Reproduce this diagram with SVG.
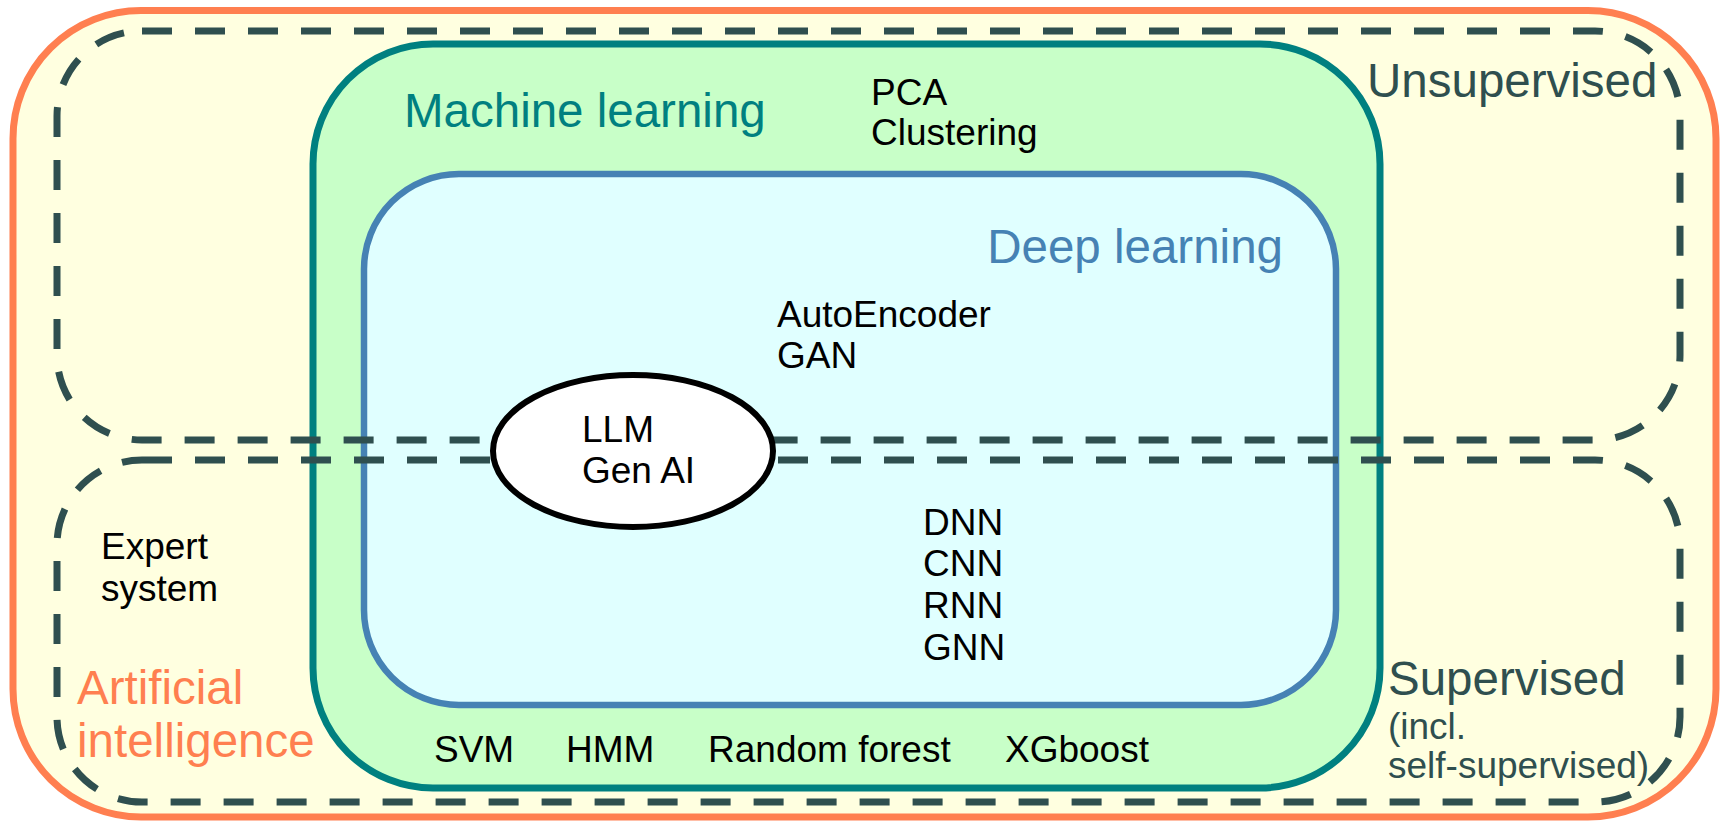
<svg xmlns="http://www.w3.org/2000/svg" width="1720" height="824" viewBox="0 0 1720 824">
<style>
text{font-family:"Liberation Sans",Arial,sans-serif;}
.big{font-size:47.5px;}
.sm{font-size:37px;fill:#000;}
.dash{fill:none;stroke:#2F4F4F;stroke-width:7;stroke-dasharray:30 23;}
.slate{fill:#2F4F4F;}
</style>
<rect width="1720" height="824" fill="#ffffff"/>
<g id="ai">
<rect x="13" y="10.5" width="1703" height="806.5" rx="128" ry="128" fill="#FFFFE0" stroke="#FF7F50" stroke-width="7"/>
</g>
<g id="ml">
<rect x="313" y="44" width="1067" height="744" rx="120" ry="120" fill="#C8FFC8" stroke="#008080" stroke-width="7"/>
</g>
<g id="dl">
<rect x="364" y="174" width="972" height="531" rx="95" ry="95" fill="#E0FFFF" stroke="#4682B4" stroke-width="6.5"/>
</g>
<g id="unsupervised">
<rect class="dash" x="57" y="31" width="1623" height="409" rx="85" ry="85"/>
</g>
<g id="supervised">
<rect class="dash" x="57" y="460" width="1623" height="342" rx="85" ry="85"/>
</g>
<g id="llm">
<ellipse cx="633" cy="451" rx="140" ry="76" fill="#ffffff" stroke="#000000" stroke-width="6"/>
<text class="sm" x="582" y="442">LLM</text>
<text class="sm" x="582" y="483">Gen AI</text>
</g>
<g id="connectors"></g>
<g id="labels">
<text class="big" x="404" y="127" fill="#008080">Machine learning</text>
<text class="big" x="1283" y="263" fill="#4682B4" text-anchor="end">Deep learning</text>
<text class="big slate" x="1367" y="97">Unsupervised</text>
<text class="big slate" x="1388" y="695">Supervised</text>
<text class="slate" style="font-size:37px" x="1388" y="739">(incl.</text>
<text class="slate" style="font-size:37px" x="1388" y="778">self-supervised)</text>
<text class="big" x="77" y="704" fill="#FF7F50">Artificial</text>
<text class="big" x="77" y="757" fill="#FF7F50">intelligence</text>
</g>
<g id="pca">
<text class="sm" x="871" y="105">PCA</text>
<text class="sm" x="871" y="145">Clustering</text>
</g>
<g id="autoencoder">
<text class="sm" x="777" y="327">AutoEncoder</text>
<text class="sm" x="777" y="368">GAN</text>
</g>
<g id="dnn">
<text class="sm" x="923" y="535">DNN</text>
<text class="sm" x="923" y="576">CNN</text>
<text class="sm" x="923" y="618">RNN</text>
<text class="sm" x="923" y="660">GNN</text>
</g>
<g id="expert">
<text class="sm" x="101" y="559">Expert</text>
<text class="sm" x="101" y="601">system</text>
</g>
<g id="classic">
<text class="sm" x="434" y="762">SVM</text>
<text class="sm" x="566" y="762">HMM</text>
<text class="sm" x="708" y="762">Random forest</text>
<text class="sm" x="1005" y="762">XGboost</text>
</g>
</svg>
